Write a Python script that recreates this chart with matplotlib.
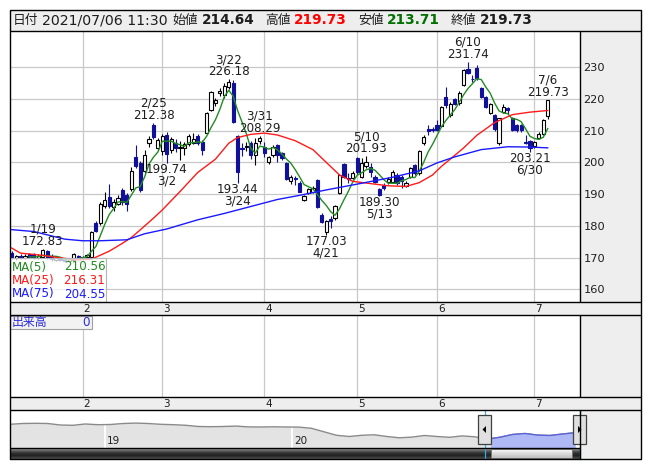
import matplotlib
matplotlib.use("Agg")
import matplotlib.pyplot as plt
import matplotlib.transforms as mtrans
from matplotlib.patches import Rectangle, Polygon
import numpy as np
import pandas as pd

plt.rcParams['font.family'] = ['DejaVu Sans', 'Noto Sans CJK JP']

# ---------------- data ----------------
dates = [
    "2021-01-07", "2021-01-08", "2021-01-12", "2021-01-13", "2021-01-14", "2021-01-15", "2021-01-18",
    "2021-01-19", "2021-01-20", "2021-01-21", "2021-01-22", "2021-01-25", "2021-01-26", "2021-01-27",
    "2021-01-28", "2021-01-29",
    "2021-02-01", "2021-02-02", "2021-02-03", "2021-02-04", "2021-02-05", "2021-02-08", "2021-02-09",
    "2021-02-10", "2021-02-12", "2021-02-15", "2021-02-16", "2021-02-17", "2021-02-18", "2021-02-19",
    "2021-02-22", "2021-02-24", "2021-02-25", "2021-02-26",
    "2021-03-01", "2021-03-02", "2021-03-03", "2021-03-04", "2021-03-05", "2021-03-08", "2021-03-09",
    "2021-03-10", "2021-03-11", "2021-03-12", "2021-03-15", "2021-03-16", "2021-03-17", "2021-03-18",
    "2021-03-19", "2021-03-22", "2021-03-23", "2021-03-24", "2021-03-25", "2021-03-26", "2021-03-29",
    "2021-03-30", "2021-03-31",
    "2021-04-01", "2021-04-02", "2021-04-05", "2021-04-06", "2021-04-07", "2021-04-08", "2021-04-09",
    "2021-04-12", "2021-04-13", "2021-04-14", "2021-04-15", "2021-04-16", "2021-04-19", "2021-04-20",
    "2021-04-21", "2021-04-22", "2021-04-23", "2021-04-26", "2021-04-27", "2021-04-28", "2021-04-30",
    "2021-05-06", "2021-05-07", "2021-05-10", "2021-05-11", "2021-05-12", "2021-05-13", "2021-05-14",
    "2021-05-17", "2021-05-18", "2021-05-19", "2021-05-20", "2021-05-21", "2021-05-24", "2021-05-25",
    "2021-05-26", "2021-05-27", "2021-05-28", "2021-05-31",
    "2021-06-01", "2021-06-02", "2021-06-03", "2021-06-04", "2021-06-07", "2021-06-08", "2021-06-09",
    "2021-06-10", "2021-06-11", "2021-06-14", "2021-06-15", "2021-06-16", "2021-06-17", "2021-06-18",
    "2021-06-21", "2021-06-22", "2021-06-23", "2021-06-24", "2021-06-25", "2021-06-28", "2021-06-29",
    "2021-06-30",
    "2021-07-01", "2021-07-02", "2021-07-05", "2021-07-06",
]

opens = [
    171.5, 169.8, 170.6, 170.0, 171.0, 171.2, 169.9, 170.3, 172.2, 170.5, 169.2, 169.8, 169.4, 168.9,
    169.3, 170.5,
    169.7, 170.1, 170.3, 180.8, 180.8, 186.2, 189.0, 185.8, 187.0, 191.3, 189.6, 191.5, 201.7, 199.8,
    197.2, 206.0, 211.6, 204.4,
    203.5, 208.6, 204.0, 206.0, 204.6, 204.6, 205.8, 206.2, 208.2, 206.5, 209.1, 216.5, 218.6, 221.7,
    221.2, 223.8, 224.9, 208.3, 204.6, 204.9, 206.0, 202.3, 206.6,
    204.9, 200.2, 202.3, 205.4, 202.8, 199.7, 194.0, 195.0, 193.6, 188.2, 190.3, 190.8, 194.3, 183.4,
    178.2, 182.2, 182.4, 190.3, 199.4, 195.2, 195.0,
    201.3, 195.5, 198.7, 198.4, 195.5, 191.5, 192.9, 193.8, 193.9, 196.0, 195.5, 192.6, 195.5, 199.2,
    196.5, 206.0, 210.6, 210.4,
    211.7, 211.5, 220.6, 215.0, 219.8, 218.6, 224.4, 229.3, 226.3, 229.6, 223.3, 220.6, 215.6, 214.8,
    206.0, 215.9, 217.0, 214.1, 211.7, 211.7, 206.4, 206.6,
    205.0, 207.8, 208.9, 214.64,
]
highs = [
    172.2, 170.8, 171.0, 171.0, 171.6, 171.5, 171.0, 172.83, 172.5, 171.0, 170.2, 170.0, 169.8, 169.8,
    171.5, 170.8,
    170.6, 171.2, 178.5, 181.6, 187.4, 190.8, 193.2, 188.6, 189.8, 191.8, 190.2, 198.4, 205.6, 200.3,
    203.9, 208.3, 212.38, 207.5,
    208.8, 209.4, 208.0, 207.2, 206.7, 206.4, 208.9, 209.2, 208.8, 207.0, 215.8, 222.6, 220.2, 223.4,
    225.0, 226.18, 225.8, 208.6, 206.0, 206.3, 206.8, 207.6, 208.29,
    206.5, 202.0, 205.6, 205.9, 203.4, 200.0, 196.0, 195.7, 194.0, 189.8, 191.8, 192.4, 194.7, 184.0,
    181.9, 183.0, 186.6, 196.3, 199.8, 196.5, 197.2,
    201.7, 201.2, 201.93, 199.8, 196.0, 192.0, 193.6, 195.3, 197.6, 196.5, 196.0, 194.0, 198.4, 199.6,
    204.0, 208.6, 211.7, 211.2,
    213.2, 217.8, 223.8, 219.0, 220.4, 222.3, 229.4, 231.74, 227.4, 230.6, 223.8, 221.0, 218.8, 215.2,
    214.0, 218.4, 217.3, 214.4, 212.0, 212.0, 208.5, 207.0,
    206.7, 209.5, 213.6, 219.73,
]
lows = [
    169.5, 169.3, 169.6, 169.6, 169.8, 169.6, 169.5, 170.0, 169.4, 169.0, 168.9, 168.8, 168.62, 168.7,
    169.0, 169.5,
    169.4, 169.8, 170.0, 177.9, 180.3, 185.7, 185.6, 184.8, 186.4, 186.6, 184.8, 191.0, 198.3, 190.6,
    196.5, 204.9, 207.2, 203.8,
    202.3, 199.74, 203.0, 203.2, 200.6, 202.4, 205.0, 205.8, 205.6, 202.4, 208.8, 216.0, 217.6, 221.0,
    220.2, 223.2, 212.5, 193.44, 202.0, 203.7, 201.0, 199.3, 205.8,
    201.6, 199.6, 201.8, 200.2, 200.6, 194.4, 193.2, 192.8, 190.5, 187.8, 189.9, 190.3, 185.6, 180.8,
    177.03, 179.2, 181.8, 189.9, 195.2, 193.6, 194.6,
    196.4, 195.0, 198.3, 195.5, 193.4, 189.30, 191.2, 193.2, 193.4, 192.8, 192.0, 192.2, 195.0, 196.0,
    196.0, 205.6, 208.7, 209.4,
    209.8, 211.0, 217.0, 214.4, 218.2, 218.0, 224.0, 227.8, 225.3, 226.0, 220.3, 217.0, 215.2, 210.0,
    205.6, 215.6, 215.2, 209.8, 209.6, 209.6, 205.9, 203.21,
    204.6, 207.4, 208.6, 213.71,
]
closes = [
    169.8, 170.4, 170.0, 170.6, 170.2, 169.9, 170.6, 172.3, 169.9, 169.4, 169.8, 169.1, 168.9, 169.5,
    171.0, 169.8,
    170.3, 170.8, 178.0, 178.4, 186.9, 188.0, 186.3, 187.4, 188.9, 187.5, 186.9, 197.4, 198.8, 191.4,
    202.3, 207.4, 208.1, 207.0,
    208.3, 202.5, 207.4, 204.5, 204.9, 205.8, 208.4, 207.2, 206.0, 203.9, 215.4, 222.2, 219.6, 222.4,
    223.9, 225.4, 212.8, 197.0, 204.2, 205.1, 202.3, 206.0, 207.8,
    202.8, 201.8, 204.9, 202.3, 201.4, 194.9, 195.3, 194.6, 190.8, 189.4, 191.5, 191.9, 185.9, 181.3,
    181.6, 181.6, 186.3, 196.0, 195.5, 194.9, 196.5,
    196.8, 199.7, 200.2, 197.0, 193.9, 189.7, 191.8, 194.6, 197.1, 193.6, 194.0, 193.6, 198.1, 196.6,
    203.6, 208.1, 209.8, 210.2,
    210.2, 217.3, 218.2, 218.5, 218.5, 221.9, 229.0, 228.2, 226.1, 226.4, 220.6, 217.5, 218.5, 210.6,
    213.8, 217.3, 216.4, 210.1, 210.1, 210.1, 206.1, 204.6,
    206.5, 208.9, 213.3, 219.73,
]

# moving averages (25-day and 75-day)
ma25_dates = ["2021-01-07", "2021-01-12", "2021-01-19", "2021-01-25", "2021-01-29", "2021-02-03",
              "2021-02-09", "2021-02-15", "2021-02-17", "2021-02-19", "2021-02-25", "2021-03-01",
              "2021-03-05", "2021-03-11", "2021-03-17", "2021-03-22", "2021-03-24", "2021-03-29",
              "2021-04-01", "2021-04-06", "2021-04-12", "2021-04-16", "2021-04-21", "2021-04-26",
              "2021-04-30", "2021-05-11", "2021-05-17", "2021-05-21", "2021-05-26", "2021-05-31",
              "2021-06-02", "2021-06-04", "2021-06-09", "2021-06-14", "2021-06-18", "2021-06-24",
              "2021-06-30", "2021-07-06"]
ma25_vals = [173.0, 171.4, 170.7, 169.9, 169.3, 169.5, 172.0, 174.5, 176.3, 178.7, 182.4, 185.0,
             190.8, 196.8, 201.0, 206.0, 207.8, 208.8, 209.2, 208.6, 206.8, 204.0, 200.0, 196.0,
             194.0, 193.3, 192.6, 192.4, 193.6, 196.0, 198.7, 201.0, 204.5, 208.5, 212.5, 215.0,
             215.8, 216.31]
ma75_dates = ["2021-01-07", "2021-01-15", "2021-01-26", "2021-02-01", "2021-02-05", "2021-02-16",
              "2021-02-22", "2021-03-02", "2021-03-11", "2021-03-19", "2021-03-29", "2021-04-06",
              "2021-04-13", "2021-04-21", "2021-05-07", "2021-05-18", "2021-05-26", "2021-06-01",
              "2021-06-07", "2021-06-15", "2021-06-23", "2021-06-30", "2021-07-06"]
ma75_vals = [178.8, 178.2, 175.8, 175.3, 175.3, 175.6, 177.5, 179.0, 181.9, 183.9, 186.1, 188.3,
             189.6, 191.3, 193.4, 195.3, 197.3, 199.8, 201.7, 204.0, 204.9, 204.8, 204.55]

hi_label_dates = ["2021-01-19", "2021-02-25", "2021-03-22", "2021-03-31", "2021-05-10", "2021-06-10",
                  "2021-07-06"]
lo_label_dates = ["2021-03-02", "2021-03-24", "2021-04-21", "2021-05-13", "2021-06-30"]

yticks = [160, 170, 180, 190, 200, 210, 220, 230]

# navigator (long history line, evenly spaced samples)
nav_vals = [24.0, 24.8, 25.0, 24.8, 23.3, 23.0, 24.3, 23.6, 23.8, 24.8, 25.2, 24.8, 24.0, 23.6,
            23.0, 21.8, 21.6, 21.8, 22.2, 21.4, 21.3, 21.5, 21.3, 21.2, 20.0, 16.5, 13.0, 11.8,
            13.0, 13.5, 11.8, 10.5, 11.2, 12.8, 11.8, 11.0, 12.4, 11.5, 9.2, 11.0, 13.8, 14.8,
            13.2, 12.8, 14.3, 15.6]
nav_years = ["19", "20"]

header_date = "2021/07/06 11:30"
ma_last = {"MA(5)": "210.56", "MA(25)": "216.31", "MA(75)": "204.55"}

# ---------------- layout helpers ----------------
W, H = 653, 470
fig = plt.figure(figsize=(W / 100, H / 100), dpi=100)
fig.patch.set_facecolor("white")


def rect(x0, y0, x1, y1):
    return [x0 / W, 1 - y1 / H, (x1 - x0) / W, (y1 - y0) / H]


L, PR, R = 10, 580, 641
TOP, HEAD_B, MAIN_B, S1_B, VOL_B, S2_B, NAV_B, BOT = 10, 30.7, 302.3, 315, 397.3, 410, 448.3, 459
GREY = "#eeeeee"
GRID = "#c8c8c8"
BLUE_C = "#10109a"
TXT = "#1e1e1e"

bg = fig.add_axes([0, 0, 1, 1], zorder=-5)
bg.set_xlim(0, W); bg.set_ylim(H, 0); bg.axis("off")
bg.add_patch(Rectangle((L, TOP), R - L, BOT - TOP, facecolor=GREY, edgecolor="none"))

dt = pd.to_datetime(dates)
x = np.arange(len(dates))
o = np.array(opens); h = np.array(highs); lo = np.array(lows); c = np.array(closes)
pos = {d: i for i, d in enumerate(dates)}

month_pos = [i for i in range(1, len(dt)) if dt[i].month != dt[i - 1].month]
month_lbl = [str(dt[i].month) for i in month_pos]

XL = (-0.38, 128.29)
YL = (155.92, 241.44)

# ---------------- main price panel ----------------
ax = fig.add_axes(rect(L, HEAD_B, PR, MAIN_B), zorder=1)
ax.set_facecolor("white")
ax.set_xlim(*XL); ax.set_ylim(*YL)
for s in ax.spines.values():
    s.set_visible(False)
ax.set_yticks(yticks)
ax.yaxis.tick_right()
ax.tick_params(axis="y", length=0, pad=2.5, labelsize=8.2, labelcolor=TXT)
ax.set_xticks(month_pos)
ax.tick_params(axis="x", length=0, labelbottom=False)
ax.grid(True, color=GRID, lw=0.9)
ax.set_axisbelow(True)

up = c >= o
dn = ~up
body_lo = np.minimum(o, c)
body_h = np.maximum(np.abs(c - o), 0.15)
ax.vlines(x[up], lo[up], h[up], color="black", lw=0.8, zorder=2)
ax.vlines(x[dn], lo[dn], h[dn], color=BLUE_C, lw=0.8, zorder=2)
ax.bar(x[up], body_h[up], bottom=body_lo[up], width=0.72, facecolor="white",
       edgecolor="black", lw=0.8, zorder=3)
ax.bar(x[dn], body_h[dn], bottom=body_lo[dn], width=0.72, facecolor=BLUE_C,
       edgecolor=BLUE_C, lw=0.8, zorder=3)

ma5 = pd.Series(c).rolling(5).mean()
ax.plot(x, ma5, color="#228b22", lw=1.0, zorder=4)
ax.plot([pos[d] for d in ma25_dates], ma25_vals, color="#ff1a1a", lw=1.0, zorder=4)
ax.plot([pos[d] for d in ma75_dates], ma75_vals, color="#1a1aff", lw=1.0, zorder=4)


def mlabel(d):
    t = pd.Timestamp(d)
    return f"{t.month}/{t.day}"


for d in hi_label_dates:
    i = pos[d]
    ax.annotate(f"{h[i]:.2f}", (i, h[i]), xytext=(0, 7.5), textcoords="offset pixels",
                ha="center", va="center", fontsize=8.6, color=TXT, zorder=6)
    ax.annotate(mlabel(d), (i, h[i]), xytext=(0, 19.5), textcoords="offset pixels",
                ha="center", va="center", fontsize=8.6, color=TXT, zorder=6)
for d in lo_label_dates:
    i = pos[d]
    ax.annotate(f"{lo[i]:.2f}", (i, lo[i]), xytext=(0, -6.5), textcoords="offset pixels",
                ha="center", va="center", fontsize=8.6, color=TXT, zorder=6)
    ax.annotate(mlabel(d), (i, lo[i]), xytext=(0, -18), textcoords="offset pixels",
                ha="center", va="center", fontsize=8.6, color=TXT, zorder=6)

# ---------------- volume panel ----------------
av = fig.add_axes(rect(L, S1_B, PR, VOL_B), zorder=1)
av.set_facecolor("white")
av.set_xlim(*XL); av.set_ylim(0, 1)
for s in av.spines.values():
    s.set_visible(False)
av.set_xticks(month_pos); av.set_yticks([])
av.tick_params(axis="x", length=0, labelbottom=False)
av.grid(True, axis="x", color=GRID, lw=0.9)

# ---------------- navigator ----------------
an = fig.add_axes(rect(L, S2_B, PR, NAV_B), zorder=1)
an.set_facecolor("white")
kx = np.arange(len(nav_vals))
step = (575.2 - L) / (len(nav_vals) - 1)
an.set_xlim(0, (PR - L) / step)
an.set_ylim(0, NAV_B - S2_B)
for s in an.spines.values():
    s.set_visible(False)
an.set_xticks([]); an.set_yticks([])
an.fill_between(kx, 0, nav_vals, color="#e3e3e3", lw=0, zorder=1)
for px, lab in zip([104.6, 291.6], nav_years):
    kk = (px - L) / step
    an.axvline(kk, color="white", lw=1.3, zorder=2)
    an.text(kk + 0.2, 7.6, lab, fontsize=7.5, color=TXT, va="center", ha="left", zorder=5)
an.plot(kx, nav_vals, color="#8a8a8a", lw=1.0, zorder=3)
sel0 = (491 - L) / step
clip = Rectangle((sel0, 0), 100, 100, transform=an.transData)
f = an.fill_between(kx, 0, nav_vals, color="#aeb9f5", lw=0, zorder=3.5)
f.set_clip_path(clip)
ln, = an.plot(kx, nav_vals, color="#5a64d8", lw=1.0, zorder=3.6)
ln.set_clip_path(clip)

# ---------------- decorations / frame ----------------
deco = fig.add_axes([0, 0, 1, 1], zorder=10)
deco.set_xlim(0, W); deco.set_ylim(H, 0); deco.axis("off")
deco.patch.set_alpha(0)

# header
hkw = dict(va="center", ha="left", color=TXT)
deco.text(12.5, 20.2, "日付", fontsize=9.2, family=["Noto Sans CJK JP"], **hkw)
deco.text(41.5, 20.2, header_date, fontsize=10.2, **hkw)
deco.text(172.5, 20.2, "始値", fontsize=9.2, family=["Noto Sans CJK JP"], **hkw)
deco.text(202, 20.2, f"{o[-1]:.2f}", fontsize=9.8, fontweight="bold", **hkw)
deco.text(265.5, 20.2, "高値", fontsize=9.2, family=["Noto Sans CJK JP"], **hkw)
deco.text(294, 20.2, f"{h[-1]:.2f}", fontsize=9.8, fontweight="bold", va="center", ha="left", color="#ff0000")
deco.text(358.5, 20.2, "安値", fontsize=9.2, family=["Noto Sans CJK JP"], **hkw)
deco.text(387, 20.2, f"{lo[-1]:.2f}", fontsize=9.8, fontweight="bold", va="center", ha="left", color="#007000")
deco.text(450.5, 20.2, "終値", fontsize=9.2, family=["Noto Sans CJK JP"], **hkw)
deco.text(479.5, 20.2, f"{c[-1]:.2f}", fontsize=9.8, fontweight="bold", **hkw)

# date strips
bt1 = mtrans.blended_transform_factory(ax.transData, deco.transData)
for mp, ml in zip(month_pos, month_lbl):
    for yc in [(MAIN_B + S1_B) / 2, (VOL_B + S2_B) / 2]:
        deco.text(mp + 0.25, yc, ml, transform=bt1, fontsize=7.5, color=TXT, ha="left", va="center")

# MA legend box
deco.add_patch(Rectangle((L, 258.3), 96, MAIN_B - 258.3, facecolor=(1, 1, 1, 0.72),
                         edgecolor="#b4b4b4", lw=0.8))
for (name, val), col, yy in zip(ma_last.items(), ["#228b22", "#ff1a1a", "#1a1aff"], [267, 280.5, 294]):
    deco.text(11.5, yy, name, fontsize=8.6, color=col, ha="left", va="center")
    deco.text(105.5, yy, val, fontsize=8.6, color=col, ha="right", va="center")

# volume label box
deco.add_patch(Rectangle((L, 315.7), 82, 13.6, facecolor="#f2f2f2", edgecolor="#a0a0a0", lw=0.8))
deco.text(11.5, 322.5, "出来高", fontsize=8.6, family=["Noto Sans CJK JP"], color="#2a2ad8",
          ha="left", va="center")
deco.text(90, 322.5, "0", fontsize=8.6, color="#2a2ad8", ha="right", va="center")

# scrollbar
grad = np.array([0.62, 0.45, 0.32, 0.22, 0.16, 0.14, 0.2, 0.3]).reshape(-1, 1)
deco.imshow(grad, extent=(L, PR, BOT, NAV_B), cmap="gray", vmin=0, vmax=1, aspect="auto",
            interpolation="bilinear", zorder=2)
tgrad = np.array([0.97, 0.93, 0.88, 0.84, 0.8, 0.76]).reshape(-1, 1)
deco.imshow(tgrad, extent=(491, 572, BOT - 0.8, NAV_B + 1), cmap="gray", vmin=0, vmax=1,
            aspect="auto", interpolation="bilinear", zorder=3)
deco.add_patch(Rectangle((491, NAV_B + 1), 81, BOT - NAV_B - 1.8, facecolor="none",
                         edgecolor="#777777", lw=0.7, zorder=4))

# selection lines & handles
for xx in [484.5, 579.5]:
    deco.plot([xx, xx], [S2_B, BOT], color="#30b0e0", lw=0.9, zorder=5)
for x0, pointing in [(478, -1), (573, 1)]:
    deco.add_patch(Rectangle((x0, 415), 13, 29, facecolor="#e0e0e0", edgecolor="#404040",
                             lw=0.9, zorder=6))
    cx, cy = x0 + 6.5, 429.5
    tri = [(cx + 2 * pointing, cy), (cx - 1.5 * pointing, cy - 3.5), (cx - 1.5 * pointing, cy + 3.5)]
    deco.add_patch(Polygon(tri, closed=True, facecolor="black", edgecolor="none", zorder=7))

# frame lines
k = dict(color="black", lw=1.0, zorder=8, solid_capstyle="butt")
deco.plot([L, R, R, L, L], [TOP, TOP, BOT, BOT, TOP], **k)
for yy in [HEAD_B, MAIN_B, S1_B, VOL_B, S2_B]:
    deco.plot([L, R], [yy, yy], **k)
deco.plot([L, PR], [NAV_B, NAV_B], **k)
for y0, y1 in [(HEAD_B, MAIN_B), (S1_B, VOL_B), (S2_B, BOT)]:
    deco.plot([PR, PR], [y0, y1], **k)

fig.savefig("out.png", dpi=100, facecolor="white")
